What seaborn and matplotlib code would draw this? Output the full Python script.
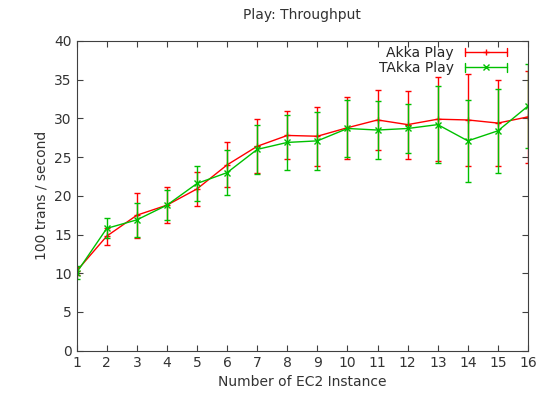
import numpy as np
import pandas as pd
import matplotlib
matplotlib.use("Agg")
import matplotlib.pyplot as plt
import seaborn as sns
from matplotlib.lines import Line2D
from matplotlib.legend_handler import HandlerBase

instances = list(range(1, 17))
akka_mean = [10.3, 14.8, 17.5, 18.8, 20.9, 24.0, 26.4, 27.8, 27.7, 28.8, 29.8, 29.2, 29.9, 29.8, 29.4, 30.2]
akka_err = [0.5, 1.1, 2.9, 2.3, 2.2, 2.9, 3.5, 3.1, 3.8, 4.0, 3.9, 4.4, 5.4, 5.9, 5.6, 5.9]
takka_mean = [10.1, 15.8, 16.9, 18.8, 21.6, 23.0, 26.0, 26.9, 27.1, 28.7, 28.5, 28.7, 29.2, 27.1, 28.4, 31.6]
takka_err = [0.9, 1.3, 2.2, 1.9, 2.3, 2.9, 3.2, 3.6, 3.7, 3.7, 3.7, 3.2, 5.0, 5.3, 5.4, 5.4]
series_names = ["Akka Play", "TAkka Play"]

sns.set_style("ticks")
plt.rcParams['font.family'] = ['DejaVu Sans']

df = pd.DataFrame({
    "x": instances * 2,
    "y": akka_mean + takka_mean,
    "err": akka_err + takka_err,
    "series": [series_names[0]] * 16 + [series_names[1]] * 16,
})

colors = {"Akka Play": "#ff0000", "TAkka Play": "#00c000"}
markers = {"Akka Play": "+", "TAkka Play": "x"}

fig = plt.figure(figsize=(5.37, 4.01), dpi=100)
ax = fig.add_axes([0.1428, 0.1254, 0.8405, 0.7724])

for name in series_names:
    d = df[df.series == name]
    ax.errorbar(d.x, d.y, yerr=d.err, fmt='none', ecolor=colors[name],
                elinewidth=1, capsize=2.5, capthick=1)
    sns.lineplot(data=d, x="x", y="y", ax=ax, color=colors[name],
                 marker=markers[name], markersize=4.5, markeredgewidth=1,
                 markeredgecolor=colors[name], linewidth=1, label=None)


class GnuplotHandler(HandlerBase):
    def create_artists(self, legend, orig_handle, xdescent, ydescent,
                       width, height, fontsize, trans):
        c = orig_handle.get_color()
        m = orig_handle.get_marker()
        y = height / 2 - ydescent
        x0, x1 = -xdescent, width - xdescent
        cap = 3
        arts = [
            Line2D([x0, x1], [y, y], color=c, lw=1),
            Line2D([x0, x0], [y - cap, y + cap], color=c, lw=1),
            Line2D([x1, x1], [y - cap, y + cap], color=c, lw=1),
            Line2D([(x0 + x1) / 2], [y], color=c, marker=m, markersize=4.5,
                   markeredgewidth=1, lw=0),
        ]
        for a in arts:
            a.set_transform(trans)
        return arts


handles = []
for name in series_names:
    h = Line2D([0], [0], color=colors[name], marker=markers[name], lw=1)
    handles.append(h)
ax.legend(handles, series_names, loc="upper right", frameon=False,
          fontsize=10, handlelength=3.0, markerfirst=False,
          bbox_to_anchor=(0.965, 1.002), borderaxespad=0.0,
          labelspacing=0.1, handletextpad=0.8,
          handler_map={Line2D: GnuplotHandler()})

ax.set_xlim(1, 16)
ax.set_ylim(0, 40)
ax.set_xticks(instances)
ax.set_yticks(range(0, 41, 5))
ax.tick_params(direction="in", top=True, right=True, length=4, labelsize=10,
               colors="#404040", labelcolor="#333333")
for s in ax.spines.values():
    s.set_visible(True)
    s.set_color("#404040")
ax.set_xlabel("Number of EC2 Instance", fontsize=10, color="#333333")
ax.set_ylabel("100 trans / second", fontsize=10, color="#333333")
ax.set_title("Play: Throughput", fontsize=10, color="#333333", pad=16)

fig.savefig("out.png", dpi=100)
